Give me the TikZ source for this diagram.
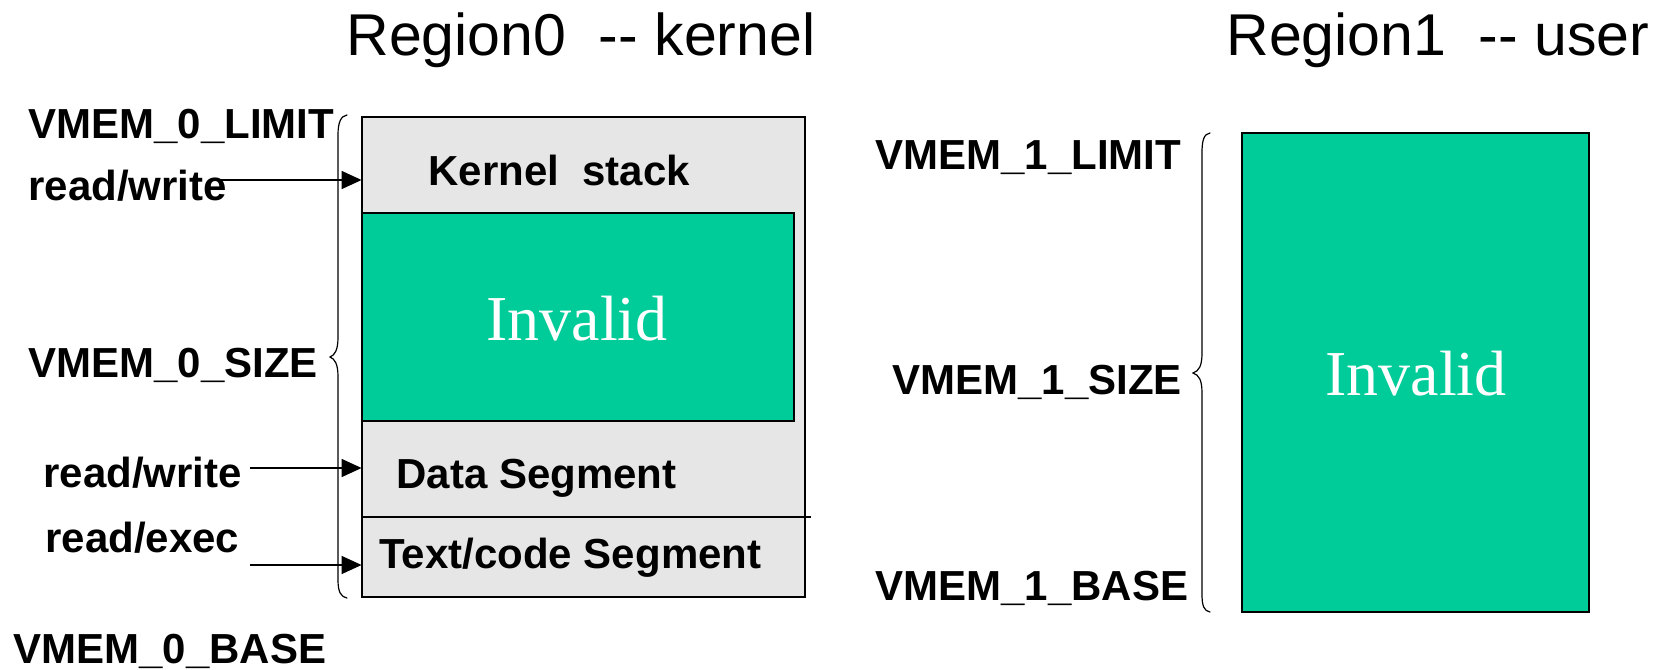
\documentclass[tikz,border=0pt]{standalone}
\usepackage{fontspec}
\setmainfont{Liberation Sans}
\newfontfamily\invfont{Liberation Serif}
\usetikzlibrary{arrows.meta,fit}
\definecolor{invgreen}{RGB}{0,204,153}
\definecolor{seggray}{RGB}{230,230,230}

\tikzset{
  lbl/.style={font=\fontsize{21}{21}\selectfont\bfseries, inner sep=0pt, anchor=base west},
  ttl/.style={font=\fontsize{29.5}{30}\selectfont, inner sep=0pt, anchor=base west},
  inv/.style={font=\invfont\fontsize{32}{33}\selectfont, text=white, inner sep=0pt, anchor=base},
  area/.style={inner sep=0pt},
  grayfill/.style={area, draw, line width=0.9pt, fill=seggray},
  greenfill/.style={area, draw, line width=0.9pt, fill=invgreen},
  arr/.style={line width=0.7pt, -{Triangle[length=10pt,width=9pt]}},
  brace/.style={line width=0.6pt, line cap=round}
}

\begin{document}
\begin{tikzpicture}[x=0.5pt,y=-0.5pt]
\useasboundingbox (0,0) rectangle (1662,670);

% titles
\node[ttl] (t0) at (346,55) {Region0\ \ -{}- kernel};
\node[ttl] (t1) at (1226,55) {Region1\ \ -{}- user};

% region 0: kernel memory map
\node[grayfill, fit={(362,117) (805,597)}] (kbox) {};
\node[area, fit={(362,117) (805,213)}] (stack) {};
\node[greenfill, fit={(362,213) (794,421)}] (inv0) {};
\node[area, fit={(362,421) (805,517)}] (data) {};
\node[area, fit={(362,517) (805,597)}] (code) {};
\draw[line width=0.9pt] (code.north west) -- ([xshift=3pt]code.north east);

\node[lbl] (kst) at (428,185) {Kernel\ \ stack};
\node[inv] (inv0t) at (577,340) {Invalid};
\node[lbl] (dseg) at (396,488) {Data Segment};
\node[lbl] (cseg) at (379,568) {Text/code Segment};

% region 0 labels
\node[lbl] (l0lim) at (28,138) {VMEM\_0\_LIMIT};
\node[lbl] (rw1) at (28,200) {read/write};
\node[lbl] (l0size) at (28,377) {VMEM\_0\_SIZE};
\node[lbl] (rw2) at (43,487) {read/write};
\node[lbl] (rx) at (45,552) {read/exec};
\node[lbl] (l0base) at (13,663) {VMEM\_0\_BASE};

% access arrows
\coordinate (a1) at (215,180);
\coordinate (a2) at (250,468);
\coordinate (a3) at (250,565);
\draw[arr] (a1) -- (a1 -| stack.west);
\draw[arr] (a2) -- (a2 -| data.west);
\draw[arr] (a3) -- (a3 -| code.west);

% brace spanning region 0
\draw[brace] (347,115) .. controls (341,116) and (338,122) .. (338,135)
  -- (338,337) .. controls (338,350) and (335,355) .. (330,357)
  .. controls (335,359) and (338,364) .. (338,377)
  -- (338,580) .. controls (338,592) and (341,597) .. (347,598);

% region 1: user memory map
\node[greenfill, fit={(1242,133) (1589,612)}] (ubox) {};
\node[inv] (inv1t) at (1416,395) {Invalid};

\node[lbl] (l1lim) at (875,169) {VMEM\_1\_LIMIT};
\node[lbl] (l1size) at (892,394) {VMEM\_1\_SIZE};
\node[lbl] (l1base) at (875,600) {VMEM\_1\_BASE};

% brace spanning region 1
\draw[brace] (1210,133) .. controls (1204,134) and (1202,140) .. (1202,153)
  -- (1202,353) .. controls (1202,366) and (1199,371) .. (1193,373)
  .. controls (1199,375) and (1202,380) .. (1202,393)
  -- (1202,594) .. controls (1202,606) and (1204,611) .. (1210,612);
\end{tikzpicture}
\end{document}
